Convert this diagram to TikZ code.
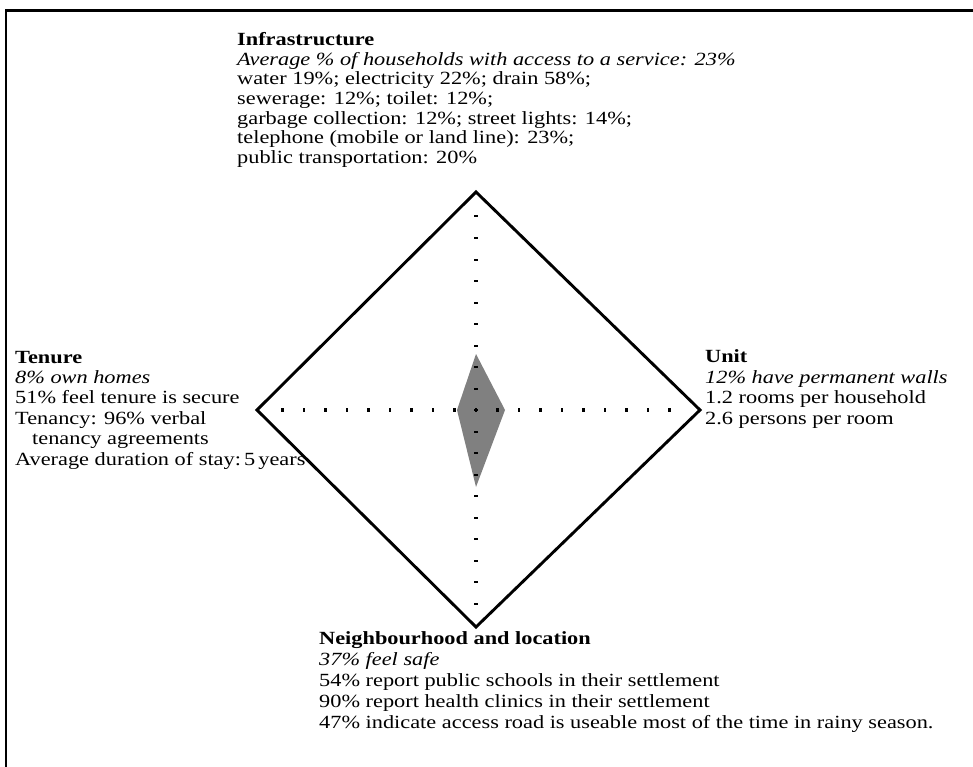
\documentclass[tikz,border=0pt]{standalone}
\usepackage{fontspec}
\setmainfont[FakeStretch=1.2]{Liberation Serif}
\usepackage{xcolor}
\usepackage{tikz}
\usetikzlibrary{
	calc,
	positioning
}
\definecolor{shade}{gray}{0.5}

\begin{document}
\begin{tikzpicture}[x=1pt, y=-1pt]

	\useasboundingbox (0,0) rectangle (973,767);

	\newcommand\CentreX{476}
	\newcommand\CentreY{410}
	\newcommand\DotStep{21.5}
	\begin{scope}[
			frame/.style={line width=2.6pt},
			rim/.style={line width=2.9pt, line join=miter},
			blob/.style={fill=shade},
			% anchored at the baseline of the last line
			textblock/.style={align=left, inner sep=0pt, anchor=base west, font={\fontsize{18.6}{#1}\selectfont}}
			]

		% page frame, only top and left edges show
		\draw[frame] (6,767) -- (6,10.5) -- (973,10.5);

		% corners of the big diamond
		\coordinate (top) at (\CentreX,192);
		\coordinate (right) at (700,\CentreY);
		\coordinate (bottom) at (\CentreX,627);
		\coordinate (left) at (257,\CentreY);
		\draw[rim] (top) -- (right) -- (bottom) -- (left) -- cycle;

		% scores
		\fill[blob] (\CentreX,354) -- (505,\CentreY) -- (\CentreX,487) -- (457,\CentreY) -- cycle;

		\foreach \i in {-9,...,9} {
			\fill (\CentreX-1.8, \CentreY+\i*\DotStep-1) rectangle ++(3.6,2);
			\fill (\CentreX+\i*\DotStep-1.2, \CentreY-1.8) rectangle ++(2.4,3.6);
		}

		\node[textblock=19.6] (infra) at (237,163.3) {
			\textbf{Infrastructure}\\
			\textit{Average \% of households with access to a service: 23\%}\\
			water 19\%; electricity 22\%; drain 58\%;\\
			sewerage: 12\%; toilet: 12\%;\\
			garbage collection: 12\%; street lights: 14\%;\\
			telephone (mobile or land line): 23\%;\\
			public transportation: 20\%
		};
		\node[textblock=20.4] (tenure) at (15,465) {
			\textbf{Tenure}\\
			\textit{8\% own homes}\\
			51\% feel tenure is secure\\
			Tenancy: 96\% verbal\\
			\hspace*{17pt}tenancy agreements\\
			Average duration of stay:\,5\,years
		};
		\node[textblock=20.4] (unit) at (705,424) {
			\textbf{Unit}\\
			\textit{12\% have permanent walls}\\
			1.2 rooms per household\\
			2.6 persons per room
		};
		\node[textblock=21] (neigh) at (319,728.3) {
			\textbf{Neighbourhood and location}\\
			\textit{37\% feel safe}\\
			54\% report public schools in their settlement\\
			90\% report health clinics in their settlement\\
			47\% indicate access road is useable most of the time in rainy season.
		};

	\end{scope}

\end{tikzpicture}
\end{document}
